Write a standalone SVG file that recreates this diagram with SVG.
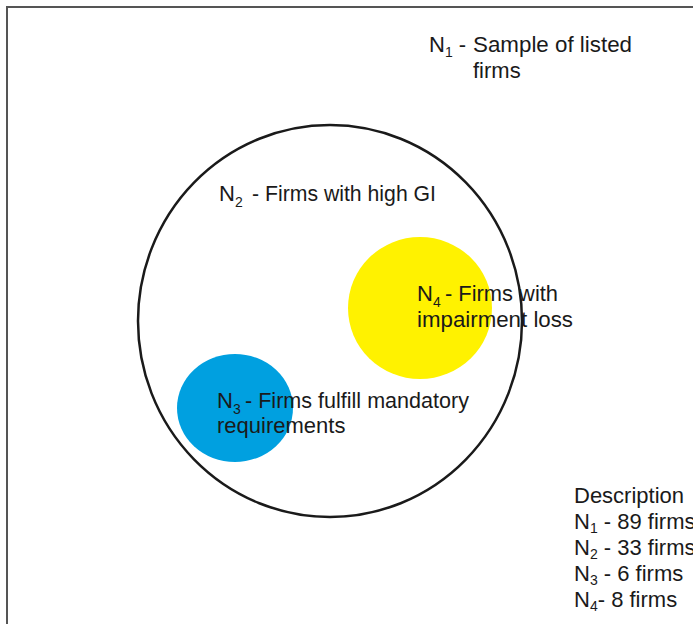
<svg xmlns="http://www.w3.org/2000/svg" width="693" height="624" viewBox="0 0 693 624">
<style>
text{font-family:"Liberation Sans",Arial,sans-serif;font-size:22px;fill:#1a1a1a}
.sub{font-size:14px}
</style>
<rect x="0" y="0" width="693" height="624" fill="#ffffff"/>
<path d="M7 624 V7 H693" fill="none" stroke="#555555" stroke-width="2"/>
<g id="n1">
<text x="429" y="52">N<tspan class="sub" dy="5">1</tspan><tspan dy="-5"> - </tspan></text>
<text x="473" y="52" textLength="159" lengthAdjust="spacingAndGlyphs">Sample of listed</text>
<text x="473" y="78">firms</text>
</g>
<g id="n2">
<ellipse cx="330" cy="321" rx="192" ry="196" fill="none" stroke="#1a1a1a" stroke-width="2.5"/>
<text x="219" y="201">N<tspan class="sub" dy="6">2</tspan></text>
<text x="252" y="201" textLength="184" lengthAdjust="spacingAndGlyphs">- Firms with high GI</text>
</g>
<g id="n4">
<ellipse cx="420" cy="308" rx="72" ry="71" fill="#fff200"/>
</g>
<g id="n3">
<ellipse cx="235" cy="408" rx="58" ry="54" fill="#00a0e0"/>
</g>
<g id="labels">
<text x="417" y="301">N<tspan class="sub" dy="6">4</tspan></text>
<text x="445" y="301" textLength="113" lengthAdjust="spacingAndGlyphs">- Firms with</text>
<text x="417" y="327" textLength="156" lengthAdjust="spacingAndGlyphs">impairment loss</text>
<text x="217" y="408">N<tspan class="sub" dy="6">3</tspan></text>
<text x="245" y="408" textLength="224" lengthAdjust="spacingAndGlyphs">- Firms fulfill mandatory</text>
<text x="217" y="433">requirements</text>
</g>
<g id="description">
<text x="574" y="503">Description</text>
<text x="574" y="529">N<tspan class="sub" dy="4">1</tspan><tspan dy="-4"> - 89 firms</tspan></text>
<text x="574" y="555">N<tspan class="sub" dy="4">2</tspan><tspan dy="-4"> - 33 firms</tspan></text>
<text x="574" y="581">N<tspan class="sub" dy="4">3</tspan><tspan dy="-4"> - 6 firms</tspan></text>
<text x="574" y="607">N<tspan class="sub" dy="4">4</tspan><tspan dy="-4">- 8 firms</tspan></text>
</g>
</svg>
